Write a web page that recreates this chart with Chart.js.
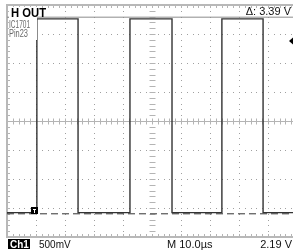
<!DOCTYPE html>
<html>
<head>
<meta charset="utf-8">
<script src="https://cdn.jsdelivr.net/npm/chart.js@4/dist/chart.umd.min.js"></script>
<style>
  html, body { margin: 0; padding: 0; background: #fff; overflow: hidden; }
  canvas { display: block; }
</style>
</head>
<body>
<canvas id="scope" width="300" height="250"></canvas>
<script>
// trace: time in us, level in volts (500 mV/div, 10 us/div)
var traceTime = [0, 10.3, 10.3, 24.5, 24.5, 42.4, 42.4, 56.9, 56.9, 74.1, 74.1, 88.3, 88.3, 100];
var traceVolt = [-1.58, -1.58, 1.76, 1.76, -1.58, -1.58, 1.76, 1.76, -1.58, -1.58, 1.76, 1.76, -1.58, -1.58];

// cursors
var cursorTop = 1.79;
var cursorBottom = -1.60;
var triggerLevel = 1.38;
var triggerTime = 9.3;

var divsX = 10, divsY = 8;
var xMin = 0, xMax = 100, yMin = -2, yMax = 2;

var labels = {
  title: "H OUT",
  sub1: "IC1701",
  sub2: "Pin23",
  delta: "\u0394: 3.39 V",
  ch: "Ch1",
  volts: "500mV",
  time: "M 10.0\u00b5s",
  level: "2.19 V"
};

function makePoints(xs, ys) {
  var pts = [];
  for (var i = 0; i < xs.length; i++) pts.push({ x: xs[i], y: ys[i] });
  return pts;
}

var graticule = {
  id: 'graticule',
  beforeDatasetsDraw: function (chart) {
    var ctx = chart.ctx;
    var xs = chart.scales.x, ys = chart.scales.y;
    var a = chart.chartArea;
    var stepX = (xMax - xMin) / divsX, stepY = (yMax - yMin) / divsY;
    ctx.save();
    // dots on major lines
    ctx.fillStyle = '#a0a0a0';
    for (var i = 1; i < divsX; i++) {
      var px = Math.round(xs.getPixelForValue(xMin + i * stepX));
      for (var j = 0; j <= divsY * 5; j++) {
        var py = Math.round(ys.getPixelForValue(yMin + j * stepY / 5));
        ctx.fillRect(px, py, 1, 1);
      }
    }
    for (var j = 1; j < divsY; j++) {
      var py = Math.round(ys.getPixelForValue(yMin + j * stepY));
      if (j === divsY / 2) continue;
      for (var i = 0; i <= divsX * 5; i++) {
        var px = Math.round(xs.getPixelForValue(xMin + i * stepX / 5));
        ctx.fillRect(px, py, 1, 1);
      }
    }
    // centre axes with ticks
    ctx.strokeStyle = '#b4b4b4';
    ctx.lineWidth = 1;
    var cx = Math.round(xs.getPixelForValue((xMin + xMax) / 2)) + 0.5;
    var cy = Math.round(ys.getPixelForValue((yMin + yMax) / 2)) + 0.5;
    ctx.beginPath();
    ctx.moveTo(a.left, cy); ctx.lineTo(a.right, cy);
    for (var i = 0; i <= divsX * 5; i++) {
      var px = Math.round(xs.getPixelForValue(xMin + i * stepX / 5)) + 0.5;
      ctx.moveTo(px, cy - 3); ctx.lineTo(px, cy + 3);
      ctx.moveTo(px, a.top); ctx.lineTo(px, a.top + 3);
      ctx.moveTo(px, a.bottom); ctx.lineTo(px, a.bottom - 3);
    }
    for (var j = 0; j <= divsY * 5; j++) {
      var py = Math.round(ys.getPixelForValue(yMin + j * stepY / 5)) + 0.5;
      ctx.moveTo(cx - 3, py); ctx.lineTo(cx + 3, py);
      ctx.moveTo(a.left, py); ctx.lineTo(a.left + 3, py);
      ctx.moveTo(a.right, py); ctx.lineTo(a.right - 3, py);
    }
    ctx.stroke();
    // border
    ctx.strokeStyle = '#b8b8b8';
    ctx.lineWidth = 2;
    ctx.strokeRect(a.left, a.top, a.right - a.left, a.bottom - a.top);
    ctx.restore();
  },
  afterDatasetsDraw: function (chart) {
    var ctx = chart.ctx;
    var xs = chart.scales.x, ys = chart.scales.y;
    var a = chart.chartArea;
    ctx.save();
    // label box
    ctx.fillStyle = '#fff';
    ctx.fillRect(a.left + 2, a.top + 2, 28, 33);
    ctx.fillStyle = '#000';
    ctx.font = 'bold 12px "Liberation Sans", Arial, sans-serif';
    ctx.textBaseline = 'alphabetic';
    ctx.fillText(labels.title, 11, 17, 35);
    ctx.fillStyle = '#6a6a6a';
    ctx.font = '10px "Liberation Sans", Arial, sans-serif';
    ctx.fillText(labels.sub1, 9, 28, 21);
    ctx.fillText(labels.sub2, 9, 37, 19);
    // delta readout
    ctx.fillStyle = '#111';
    ctx.font = '11px "Liberation Sans", Arial, sans-serif';
    ctx.textAlign = 'right';
    ctx.fillText(labels.delta, 291, 15);
    // trigger position marker
    var tx = Math.round(xs.getPixelForValue(triggerTime));
    var ty = Math.round(ys.getPixelForValue(cursorBottom));
    ctx.fillStyle = '#000';
    ctx.fillRect(tx - 3, ty - 7, 7, 7);
    ctx.fillStyle = '#fff';
    ctx.fillRect(tx - 1, ty - 5, 3, 1);
    ctx.fillRect(tx, ty - 5, 1, 4);
    // trigger level arrow
    var ly = ys.getPixelForValue(triggerLevel);
    ctx.fillStyle = '#000';
    ctx.beginPath();
    ctx.moveTo(289, ly); ctx.lineTo(293, ly - 3.5); ctx.lineTo(293, ly + 3.5);
    ctx.closePath();
    ctx.fill();
    // bottom readouts
    ctx.textAlign = 'left';
    ctx.fillStyle = '#000';
    ctx.fillRect(8, 239, 22, 10);
    ctx.fillStyle = '#fff';
    ctx.font = 'bold 10px "Liberation Sans", Arial, sans-serif';
    ctx.fillText(labels.ch, 10, 248);
    ctx.fillStyle = '#111';
    ctx.font = '10px "Liberation Sans", Arial, sans-serif';
    ctx.fillText(labels.volts, 39, 248);
    ctx.font = '11px "Liberation Sans", Arial, sans-serif';
    ctx.fillText(labels.time, 167, 248);
    ctx.textAlign = 'right';
    ctx.fillText(labels.level, 292, 248);
    ctx.restore();
  }
};

new Chart(document.getElementById('scope').getContext('2d'), {
  type: 'line',
  data: {
    datasets: [{
      label: 'cursor top',
      data: makePoints([xMin, xMax], [cursorTop, cursorTop]),
      borderColor: '#8c8c8c',
      borderWidth: 1,
      pointRadius: 0
    }, {
      label: 'cursor bottom',
      data: makePoints([xMin, xMax], [cursorBottom, cursorBottom]),
      borderColor: '#333',
      borderWidth: 1,
      borderDash: [7, 4],
      pointRadius: 0
    }, {
      label: 'Ch1',
      data: makePoints(traceTime, traceVolt),
      borderColor: '#333',
      borderWidth: 1.4,
      pointRadius: 0,
      tension: 0
    }]
  },
  options: {
    responsive: false,
    animation: false,
    layout: { padding: { left: 7, right: 3, top: 5, bottom: 13 } },
    plugins: { legend: { display: false }, tooltip: { enabled: false }, title: { display: false } },
    scales: {
      x: { type: 'linear', min: xMin, max: xMax, display: false },
      y: { type: 'linear', min: yMin, max: yMax, display: false }
    }
  },
  plugins: [graticule]
});
</script>
</body>
</html>
